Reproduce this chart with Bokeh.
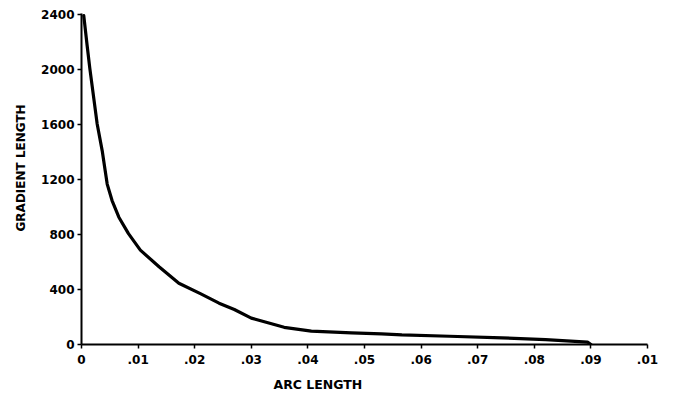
from bokeh.plotting import figure
from bokeh.models import Range1d, FixedTicker, Title
from bokeh.embed import file_html
from bokeh.resources import INLINE

# Data
arc_length = [0.0004, 0.0010, 0.00147, 0.00277, 0.00366, 0.0041, 0.00454, 0.0054,
              0.0066, 0.0083, 0.0104, 0.0137, 0.0172, 0.0210, 0.0243, 0.0270,
              0.0300, 0.0358, 0.0406, 0.0477, 0.0530, 0.0566, 0.0650, 0.0743,
              0.0820, 0.0894, 0.0900]
gradient_length = [2395, 2175, 2010, 1605, 1410, 1289, 1168, 1048,
                   927, 807, 687, 566, 446, 370, 301, 255,
                   192, 125, 97, 85, 78, 70, 60, 48,
                   36, 18, 0]

x_ticks = [0, 0.01, 0.02, 0.03, 0.04, 0.05, 0.06, 0.07, 0.08, 0.09, 0.10]
x_tick_labels = ["0", ".01", ".02", ".03", ".04", ".05", ".06", ".07", ".08", ".09", ".01"]
y_ticks = [0, 400, 800, 1200, 1600, 2000, 2400]

FONT = "DejaVu Sans"

p = figure(width=676, height=400, output_backend="svg", toolbar_location=None,
           x_range=Range1d(0, 0.10), y_range=Range1d(0, 2410),
           min_border_left=81, min_border_right=29, min_border_top=13, min_border_bottom=56)
p.outline_line_color = None
p.xgrid.visible = False
p.ygrid.visible = False
p.background_fill_color = "white"

p.line(arc_length, gradient_length, line_color="black", line_width=3.2,
       line_join="round", line_cap="round")

for ax in (p.xaxis[0], p.yaxis[0]):
    ax.axis_line_color = "black"
    ax.axis_line_width = 2
    ax.major_tick_line_color = "black"
    ax.major_tick_line_width = 1.5
    ax.major_tick_in = 0
    ax.major_tick_out = 4
    ax.minor_tick_line_color = None
    ax.major_label_text_font = FONT
    ax.major_label_text_font_style = "bold"
    ax.major_label_text_font_size = "12px"
    ax.major_label_text_color = "black"

p.xaxis.ticker = FixedTicker(ticks=x_ticks)
p.xaxis.major_label_overrides = {t: l for t, l in zip(x_ticks, x_tick_labels)}
p.xaxis.major_label_standoff = 6
p.yaxis.ticker = FixedTicker(ticks=y_ticks)
p.yaxis.major_label_standoff = 3

p.add_layout(Title(text="ARC LENGTH", align="left", offset=192, standoff=17,
                   text_font=FONT, text_font_style="bold", text_font_size="12.5px",
                   text_color="black"), "below")
p.add_layout(Title(text="GRADIENT LENGTH", align="left", offset=113, standoff=22,
                   text_font=FONT, text_font_style="bold", text_font_size="12px",
                   text_color="black"), "left")

open("out.html", "w").write(file_html(p, INLINE))
